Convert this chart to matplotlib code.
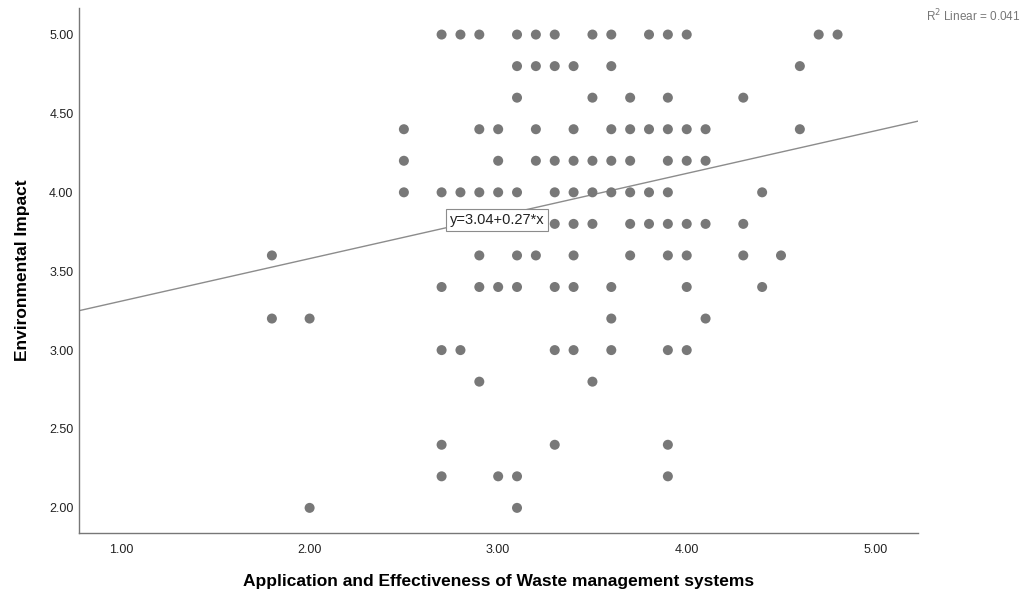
import matplotlib
matplotlib.use('Agg')
import matplotlib.pyplot as plt

plt.rcParams['font.family'] = ['Liberation Sans', 'DejaVu Sans']

# Data, one row per y level
row_500 = [2.7, 2.8, 2.9, 3.1, 3.2, 3.3, 3.5, 3.6, 3.8, 3.9, 4.0, 4.7, 4.8]
row_480 = [3.1, 3.2, 3.3, 3.4, 3.6, 4.6]
row_460 = [3.1, 3.5, 3.7, 3.9, 4.3]
row_440 = [2.5, 2.9, 3.0, 3.2, 3.4, 3.6, 3.7, 3.8, 3.9, 4.0, 4.1, 4.6]
row_420 = [2.5, 3.0, 3.2, 3.3, 3.4, 3.5, 3.6, 3.7, 3.9, 4.0, 4.1]
row_400 = [2.5, 2.7, 2.8, 2.9, 3.0, 3.1, 3.3, 3.4, 3.5, 3.6, 3.7, 3.8, 3.9, 4.4]
row_380 = [3.3, 3.4, 3.5, 3.7, 3.8, 3.9, 4.0, 4.1, 4.3]
row_360 = [1.8, 2.9, 3.1, 3.2, 3.4, 3.7, 3.9, 4.0, 4.3, 4.5]
row_340 = [2.7, 2.9, 3.0, 3.1, 3.3, 3.4, 3.6, 4.0, 4.4]
row_320 = [1.8, 2.0, 3.6, 4.1]
row_300 = [2.7, 2.8, 3.3, 3.4, 3.6, 3.9, 4.0]
row_280 = [2.9, 3.5]
row_240 = [2.7, 3.3, 3.9]
row_220 = [2.7, 3.0, 3.1, 3.9]
row_200 = [2.0, 3.1]

rows = {5.0: row_500, 4.8: row_480, 4.6: row_460, 4.4: row_440, 4.2: row_420,
        4.0: row_400, 3.8: row_380, 3.6: row_360, 3.4: row_340, 3.2: row_320,
        3.0: row_300, 2.8: row_280, 2.4: row_240, 2.2: row_220, 2.0: row_200}

# fit line as printed on the chart
intercept = 3.04
slope = 0.27
r_squared = 0.041

xs = []
ys = []
for yv, xrow in rows.items():
    xs += xrow
    ys += [yv] * len(xrow)

fig = plt.figure(figsize=(10.26, 5.95), dpi=100)
ax = fig.add_axes([0.077, 0.104, 0.818, 0.883])

xmin, xmax = 0.777, 5.228
ax.set_xlim(xmin, xmax)
ax.set_ylim(1.84, 5.17)

ax.scatter(xs, ys, s=52, color='#787878', edgecolors='none', zorder=3)

# regression line across the whole axis
ax.plot([xmin, xmax], [intercept + slope * xmin, intercept + slope * xmax],
        color='#8c8c8c', lw=1, zorder=2)

# equation label sitting on the line
lx = 2.745
ax.text(lx, intercept + slope * lx, 'y=3.04+0.27*x', fontsize=10.5, ha='left', va='bottom',
        color='#222222', zorder=4,
        bbox=dict(boxstyle='square,pad=0.25', fc='white', ec='#8c8c8c', lw=0.8))

ax.set_xticks([1, 2, 3, 4, 5])
ax.set_yticks([2.0, 2.5, 3.0, 3.5, 4.0, 4.5, 5.0])
ax.set_xticklabels(['1.00', '2.00', '3.00', '4.00', '5.00'])
ax.set_yticklabels(['2.00', '2.50', '3.00', '3.50', '4.00', '4.50', '5.00'])
ax.tick_params(length=0, labelsize=9, colors='#222222')
ax.tick_params(axis='y', pad=4)
ax.tick_params(axis='x', pad=8)

for side in ['top', 'right']:
    ax.spines[side].set_visible(False)
for side in ['left', 'bottom']:
    ax.spines[side].set_color('#777777')
    ax.spines[side].set_linewidth(1)

ax.set_xlabel('Application and Effectiveness of Waste management systems',
              fontsize=12.5, fontweight='bold', labelpad=13)
ax.set_ylabel('Environmental Impact', fontsize=12.5, fontweight='bold', labelpad=14)

fig.text(0.995, 0.96, 'R$^2$ Linear = %.3f' % r_squared, fontsize=8.5,
         color='#777777', ha='right', va='bottom')

fig.savefig('out.png', dpi=100)
